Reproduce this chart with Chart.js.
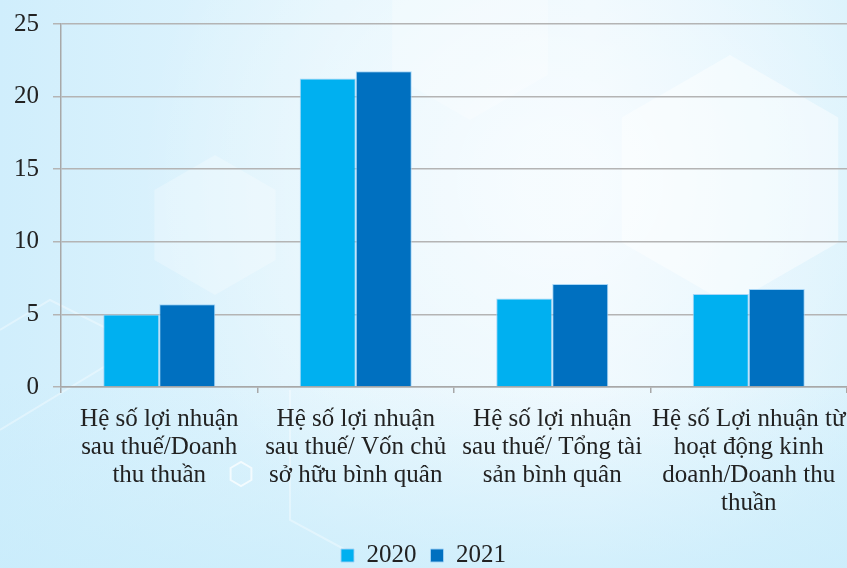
<!DOCTYPE html>
<html>
<head>
<meta charset="utf-8">
<script src="https://cdn.jsdelivr.net/npm/chart.js@4/dist/chart.umd.min.js"></script>
<style>
  html, body { margin: 0; padding: 0; background: #d6f0fc; }
  #wrap { width: 847px; height: 568px; position: relative; }
</style>
</head>
<body>
<div id="wrap"><canvas id="ratioChart"></canvas></div>
<script>
const categories = [
  ['Hệ số lợi nhuận', 'sau thuế/Doanh', 'thu thuần'],
  ['Hệ số lợi nhuận', 'sau thuế/ Vốn chủ', 'sở hữu bình quân'],
  ['Hệ số lợi nhuận', 'sau thuế/ Tổng tài', 'sản bình quân'],
  ['Hệ số Lợi nhuận từ', 'hoạt động kinh', 'doanh/Doanh thu', 'thuần']
];
const values2020 = [5.0, 21.25, 6.1, 6.4];
const values2021 = [5.7, 21.75, 7.1, 6.75];
const yTicks = [0, 5, 10, 15, 20, 25];

function hexagon(ctx, cx, cy, r) {
  ctx.beginPath();
  for (let i = 0; i < 6; i++) {
    const a = Math.PI / 3 * i + Math.PI / 6;
    const x = cx + r * Math.cos(a), y = cy + r * Math.sin(a);
    if (i === 0) ctx.moveTo(x, y); else ctx.lineTo(x, y);
  }
  ctx.closePath();
}

// soft blue backdrop with faint hexagons
const backdrop = {
  id: 'backdrop',
  beforeDraw(chart) {
    const ctx = chart.ctx, w = chart.width, h = chart.height;
    ctx.save();
    const g = ctx.createLinearGradient(0, 0, w, 0);
    g.addColorStop(0, '#d0eefc');
    g.addColorStop(0.4, '#e3f5fd');
    g.addColorStop(0.7, '#eaf7fe');
    g.addColorStop(1, '#d8f1fc');
    ctx.fillStyle = g;
    ctx.fillRect(0, 0, w, h);
    const r = ctx.createRadialGradient(560, 180, 40, 560, 180, 420);
    r.addColorStop(0, 'rgba(255,255,255,0.6)');
    r.addColorStop(1, 'rgba(255,255,255,0)');
    ctx.fillStyle = r;
    ctx.fillRect(0, 0, w, h);
    const b = ctx.createLinearGradient(0, 380, 0, h);
    b.addColorStop(0, 'rgba(200,236,251,0)');
    b.addColorStop(1, 'rgba(200,236,251,0.7)');
    ctx.fillStyle = b;
    ctx.fillRect(0, 380, w, h - 380);
    ctx.fillStyle = 'rgba(255,255,255,0.45)';
    hexagon(ctx, 730, 180, 125); ctx.fill();
    ctx.fillStyle = 'rgba(255,255,255,0.25)';
    hexagon(ctx, 215, 225, 70); ctx.fill();
    hexagon(ctx, 470, 30, 90); ctx.fill();
    ctx.strokeStyle = 'rgba(255,255,255,0.7)';
    ctx.lineWidth = 2;
    hexagon(ctx, 241, 474, 12); ctx.stroke();
    ctx.strokeStyle = 'rgba(255,255,255,0.35)';
    ctx.beginPath();
    ctx.moveTo(0, 330); ctx.lineTo(50, 300); ctx.lineTo(140, 345); ctx.lineTo(0, 430);
    ctx.moveTo(290, 390); ctx.lineTo(290, 520); ctx.lineTo(355, 555);
    ctx.stroke();
    ctx.restore();
  }
};

const serif = "'Liberation Serif', 'DejaVu Serif', serif";

new Chart(document.getElementById('ratioChart'), {
  type: 'bar',
  data: {
    labels: categories,
    datasets: [
      {
        label: '2020',
        data: values2020,
        backgroundColor: '#00b0f0',
        borderColor: 'rgba(160,210,245,0.9)',
        borderWidth: 1,
        categoryPercentage: 0.57,
        barPercentage: 1.0
      },
      {
        label: '2021',
        data: values2021,
        backgroundColor: '#0070c0',
        borderColor: 'rgba(160,210,245,0.9)',
        borderWidth: 1,
        categoryPercentage: 0.57,
        barPercentage: 1.0
      }
    ]
  },
  options: {
    responsive: true,
    maintainAspectRatio: false,
    animation: false,
    layout: { padding: { top: 24, right: 0, left: 0, bottom: -10 } },
    plugins: {
      legend: {
        position: 'bottom',
        labels: {
          font: { family: serif, size: 25 },
          color: '#222',
          boxWidth: 13,
          boxHeight: 13,
          padding: 14,
          useBorderRadius: false
        }
      },
      tooltip: { enabled: false }
    },
    scales: {
      x: {
        afterFit(axis) { axis.paddingLeft = 0; axis.paddingRight = 0; },
        grid: {
          display: true,
          drawOnChartArea: false,
          drawTicks: true,
          tickLength: 6,
          color: '#a8a8a8',
          lineWidth: 1.5,
          offset: true
        },
        border: { color: '#a8a8a8', width: 1.5 },
        ticks: {
          font: { family: serif, size: 25, lineHeight: 1.12 },
          color: '#222',
          maxRotation: 0,
          minRotation: 0,
          autoSkip: false,
          padding: 12
        }
      },
      y: {
        min: 0,
        max: 25,
        afterBuildTicks(axis) { axis.ticks = yTicks.map(v => ({ value: v })); },
        afterFit(axis) { axis.paddingTop = 0; axis.paddingBottom = 0; },
        grid: {
          color: '#b4b4b4',
          lineWidth: 1.5,
          tickLength: 8
        },
        border: { color: '#a8a8a8', width: 1.5 },
        ticks: {
          font: { family: serif, size: 25 },
          color: '#222',
          padding: 14
        }
      }
    }
  },
  plugins: [backdrop]
});
</script>
</body>
</html>
